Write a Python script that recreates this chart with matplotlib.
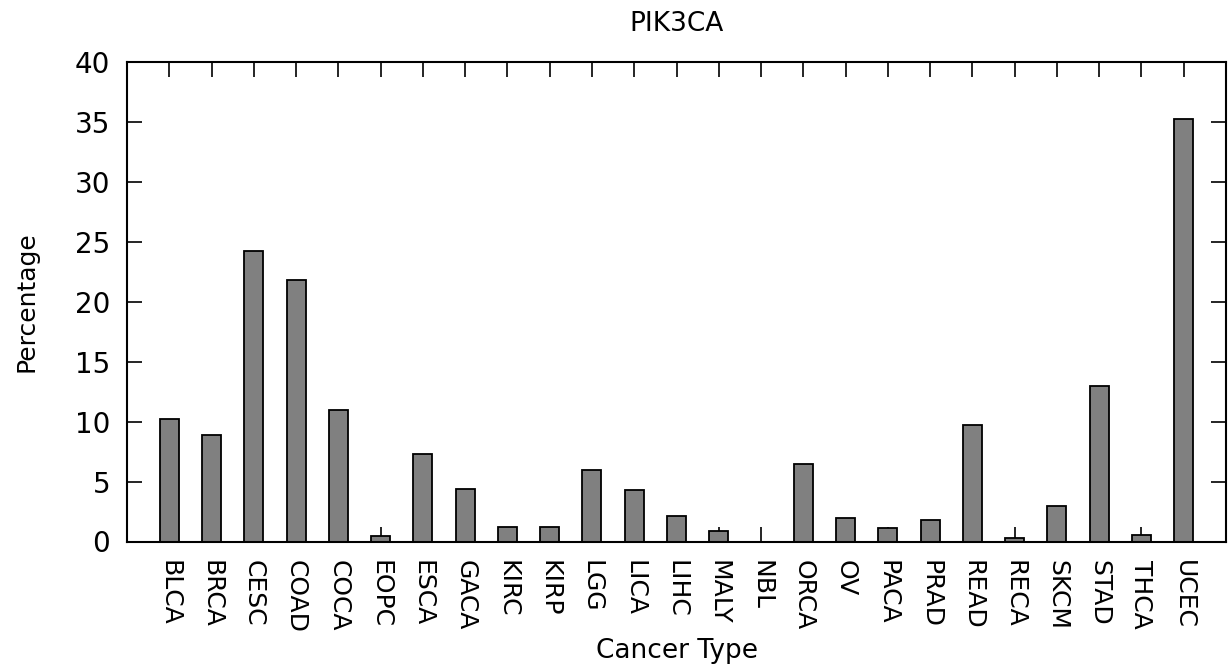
import matplotlib
matplotlib.use("Agg")
import matplotlib.pyplot as plt
import numpy as np

# PIK3CA alteration frequency by cancer type
cancer_types = ["BLCA", "BRCA", "CESC", "COAD", "COCA", "EOPC", "ESCA", "GACA",
                "KIRC", "KIRP", "LGG", "LICA", "LIHC", "MALY", "NBL", "ORCA",
                "OV", "PACA", "PRAD", "READ", "RECA", "SKCM", "STAD", "THCA", "UCEC"]
percentages = [10.2, 8.9, 24.25, 21.8, 11.0, 0.5, 7.27, 4.35,
               1.2, 1.2, 6.0, 4.3, 2.15, 0.85, 0.0, 6.44,
               1.93, 1.1, 1.8, 9.72, 0.3, 3.0, 12.95, 0.57, 35.24]

fig = plt.figure(figsize=(12.31, 6.70), dpi=100)
ax = fig.add_axes([127 / 1231, 1 - 541.5 / 670, (1226 - 127) / 1231, (541.5 - 62) / 670])

x = np.arange(len(cancer_types))
ax.bar(x, percentages, width=0.45, color="#808080", edgecolor="black", linewidth=1.3, zorder=1)

ax.set_axisbelow(True)  # bars hide the bottom ticks
ax.set_xlim(-1, len(cancer_types))
ax.set_ylim(0, 40)
ax.set_yticks(np.arange(0, 41, 5))
ax.set_xticks(x)
ax.set_xticklabels(cancer_types, rotation=-90, fontsize=18)
ax.tick_params(axis="y", labelsize=20, pad=12)
ax.tick_params(direction="in", length=11, width=1.2, top=True, right=True)
ax.tick_params(axis="x", pad=13)
for s in ax.spines.values():
    s.set_linewidth(1.5)
    s.set_zorder(3)

ax.set_xlabel("Cancer Type", fontsize=19, labelpad=4)
ax.set_ylabel("Percentage", fontsize=18, labelpad=26)
ax.set_title("PIK3CA", fontsize=19, pad=22)

fig.savefig("out.png", dpi=100)
